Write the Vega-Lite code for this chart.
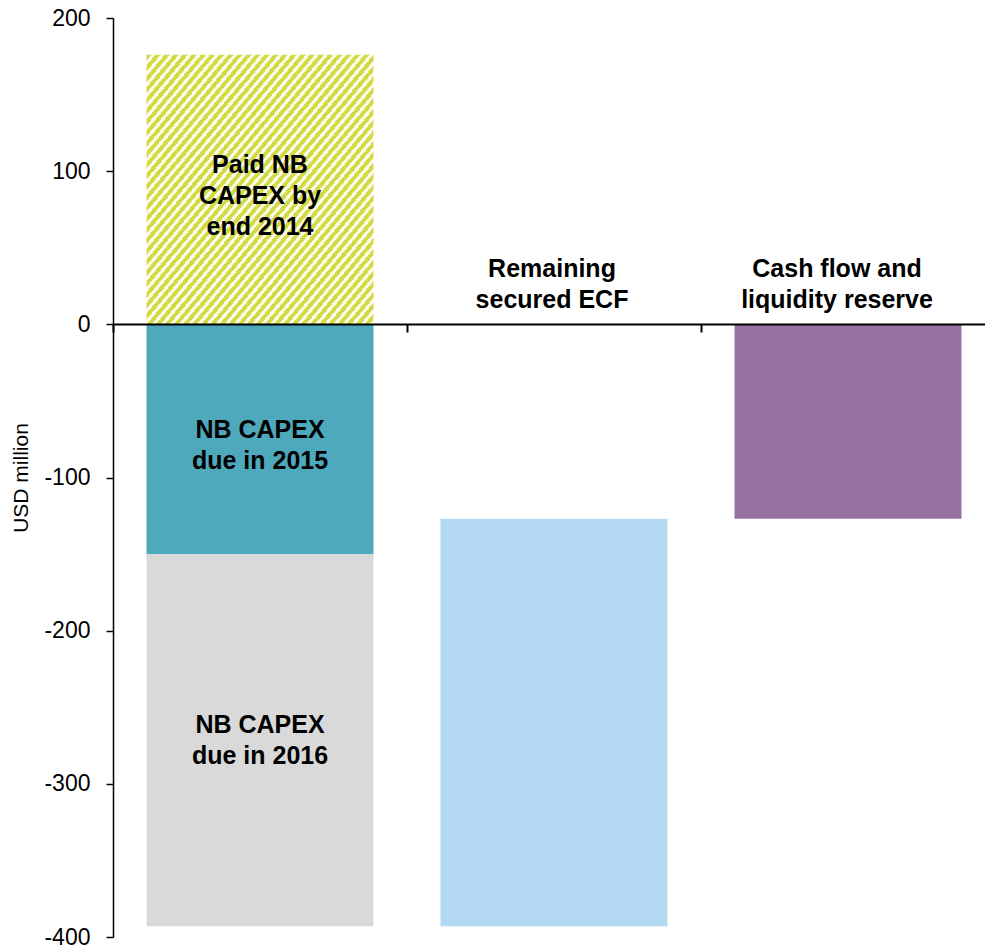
{
  "$schema": "https://vega.github.io/schema/vega-lite/v6.json",
  "width": 872,
  "height": 919,
  "autosize": "none",
  "padding": {"left": 113, "top": 18, "right": 0, "bottom": 9},
  "background": "white",
  "config": {
    "view": {"stroke": null},
    "font": "Liberation Sans",
    "axis": {"grid": false},
    "axisY": {"tickCount": 6, "labelExpr": "'' + datum.value", "domainColor": "black", "domainWidth": 1.5, "tickColor": "black", "tickWidth": 1.5, "tickSize": 7, "labelFontSize": 23, "labelColor": "black", "labelPadding": 16, "labelFont": "Liberation Sans", "titleFontSize": 21, "titleFont": "Liberation Sans", "titleFontWeight": "normal", "titleColor": "black", "titlePadding": 12}
  },
  "data": {"values": [
    {"cat": "A", "part": "paid", "start": 0, "end": 176, "label": "Paid NB\nCAPEX by\nend 2014"},
    {"cat": "A", "part": "due2015", "start": 0, "end": -150, "label": "NB CAPEX\ndue in 2015"},
    {"cat": "A", "part": "due2016", "start": -150, "end": -393, "label": "NB CAPEX\ndue in 2016"},
    {"cat": "B", "part": "ecf", "start": -127, "end": -393, "label": "Remaining\nsecured ECF"},
    {"cat": "C", "part": "cash", "start": 0, "end": -127, "label": "Cash flow and\nliquidity reserve"}
  ]},
  "encoding": {
    "x": {
      "field": "cat", "type": "nominal", "sort": null,
      "scale": {"range": [0, 882], "paddingInner": 0.228, "paddingOuter": 0.114},
      "axis": {"orient": "bottom", "offset": -613, "title": null, "labels": false, "bandPosition": -0.1476, "grid": false, "domainColor": "black", "domainWidth": 2, "tickColor": "black", "tickWidth": 2, "tickSize": 8, "zindex": 2}
    }
  },
  "layer": [
    {
      "transform": [{"filter": "datum.part == 'paid'"}],
      "mark": {"type": "bar", "fill": {"gradient": "linear", "x1": 0, "y1": 0, "x2": 1, "y2": 1, "stops": [
        {"offset":0,"color":"#d3da45"},{"offset":0.011,"color":"#d3da45"},{"offset":0.011,"color":"#fafbe6"},{"offset":0.02,"color":"#fafbe6"},
        {"offset":0.02,"color":"#d3da45"},{"offset":0.031,"color":"#d3da45"},{"offset":0.031,"color":"#fafbe6"},{"offset":0.04,"color":"#fafbe6"},
        {"offset":0.04,"color":"#d3da45"},{"offset":0.051,"color":"#d3da45"},{"offset":0.051,"color":"#fafbe6"},{"offset":0.06,"color":"#fafbe6"},
        {"offset":0.06,"color":"#d3da45"},{"offset":0.071,"color":"#d3da45"},{"offset":0.071,"color":"#fafbe6"},{"offset":0.08,"color":"#fafbe6"},
        {"offset":0.08,"color":"#d3da45"},{"offset":0.091,"color":"#d3da45"},{"offset":0.091,"color":"#fafbe6"},{"offset":0.1,"color":"#fafbe6"},
        {"offset":0.1,"color":"#d3da45"},{"offset":0.111,"color":"#d3da45"},{"offset":0.111,"color":"#fafbe6"},{"offset":0.12,"color":"#fafbe6"},
        {"offset":0.12,"color":"#d3da45"},{"offset":0.131,"color":"#d3da45"},{"offset":0.131,"color":"#fafbe6"},{"offset":0.14,"color":"#fafbe6"},
        {"offset":0.14,"color":"#d3da45"},{"offset":0.151,"color":"#d3da45"},{"offset":0.151,"color":"#fafbe6"},{"offset":0.16,"color":"#fafbe6"},
        {"offset":0.16,"color":"#d3da45"},{"offset":0.171,"color":"#d3da45"},{"offset":0.171,"color":"#fafbe6"},{"offset":0.18,"color":"#fafbe6"},
        {"offset":0.18,"color":"#d3da45"},{"offset":0.191,"color":"#d3da45"},{"offset":0.191,"color":"#fafbe6"},{"offset":0.2,"color":"#fafbe6"},
        {"offset":0.2,"color":"#d3da45"},{"offset":0.211,"color":"#d3da45"},{"offset":0.211,"color":"#fafbe6"},{"offset":0.22,"color":"#fafbe6"},
        {"offset":0.22,"color":"#d3da45"},{"offset":0.231,"color":"#d3da45"},{"offset":0.231,"color":"#fafbe6"},{"offset":0.24,"color":"#fafbe6"},
        {"offset":0.24,"color":"#d3da45"},{"offset":0.251,"color":"#d3da45"},{"offset":0.251,"color":"#fafbe6"},{"offset":0.26,"color":"#fafbe6"},
        {"offset":0.26,"color":"#d3da45"},{"offset":0.271,"color":"#d3da45"},{"offset":0.271,"color":"#fafbe6"},{"offset":0.28,"color":"#fafbe6"},
        {"offset":0.28,"color":"#d3da45"},{"offset":0.291,"color":"#d3da45"},{"offset":0.291,"color":"#fafbe6"},{"offset":0.3,"color":"#fafbe6"},
        {"offset":0.3,"color":"#d3da45"},{"offset":0.311,"color":"#d3da45"},{"offset":0.311,"color":"#fafbe6"},{"offset":0.32,"color":"#fafbe6"},
        {"offset":0.32,"color":"#d3da45"},{"offset":0.331,"color":"#d3da45"},{"offset":0.331,"color":"#fafbe6"},{"offset":0.34,"color":"#fafbe6"},
        {"offset":0.34,"color":"#d3da45"},{"offset":0.351,"color":"#d3da45"},{"offset":0.351,"color":"#fafbe6"},{"offset":0.36,"color":"#fafbe6"},
        {"offset":0.36,"color":"#d3da45"},{"offset":0.371,"color":"#d3da45"},{"offset":0.371,"color":"#fafbe6"},{"offset":0.38,"color":"#fafbe6"},
        {"offset":0.38,"color":"#d3da45"},{"offset":0.391,"color":"#d3da45"},{"offset":0.391,"color":"#fafbe6"},{"offset":0.4,"color":"#fafbe6"},
        {"offset":0.4,"color":"#d3da45"},{"offset":0.411,"color":"#d3da45"},{"offset":0.411,"color":"#fafbe6"},{"offset":0.42,"color":"#fafbe6"},
        {"offset":0.42,"color":"#d3da45"},{"offset":0.431,"color":"#d3da45"},{"offset":0.431,"color":"#fafbe6"},{"offset":0.44,"color":"#fafbe6"},
        {"offset":0.44,"color":"#d3da45"},{"offset":0.451,"color":"#d3da45"},{"offset":0.451,"color":"#fafbe6"},{"offset":0.46,"color":"#fafbe6"},
        {"offset":0.46,"color":"#d3da45"},{"offset":0.471,"color":"#d3da45"},{"offset":0.471,"color":"#fafbe6"},{"offset":0.48,"color":"#fafbe6"},
        {"offset":0.48,"color":"#d3da45"},{"offset":0.491,"color":"#d3da45"},{"offset":0.491,"color":"#fafbe6"},{"offset":0.5,"color":"#fafbe6"},
        {"offset":0.5,"color":"#d3da45"},{"offset":0.511,"color":"#d3da45"},{"offset":0.511,"color":"#fafbe6"},{"offset":0.52,"color":"#fafbe6"},
        {"offset":0.52,"color":"#d3da45"},{"offset":0.531,"color":"#d3da45"},{"offset":0.531,"color":"#fafbe6"},{"offset":0.54,"color":"#fafbe6"},
        {"offset":0.54,"color":"#d3da45"},{"offset":0.551,"color":"#d3da45"},{"offset":0.551,"color":"#fafbe6"},{"offset":0.56,"color":"#fafbe6"},
        {"offset":0.56,"color":"#d3da45"},{"offset":0.571,"color":"#d3da45"},{"offset":0.571,"color":"#fafbe6"},{"offset":0.58,"color":"#fafbe6"},
        {"offset":0.58,"color":"#d3da45"},{"offset":0.591,"color":"#d3da45"},{"offset":0.591,"color":"#fafbe6"},{"offset":0.6,"color":"#fafbe6"},
        {"offset":0.6,"color":"#d3da45"},{"offset":0.611,"color":"#d3da45"},{"offset":0.611,"color":"#fafbe6"},{"offset":0.62,"color":"#fafbe6"},
        {"offset":0.62,"color":"#d3da45"},{"offset":0.631,"color":"#d3da45"},{"offset":0.631,"color":"#fafbe6"},{"offset":0.64,"color":"#fafbe6"},
        {"offset":0.64,"color":"#d3da45"},{"offset":0.651,"color":"#d3da45"},{"offset":0.651,"color":"#fafbe6"},{"offset":0.66,"color":"#fafbe6"},
        {"offset":0.66,"color":"#d3da45"},{"offset":0.671,"color":"#d3da45"},{"offset":0.671,"color":"#fafbe6"},{"offset":0.68,"color":"#fafbe6"},
        {"offset":0.68,"color":"#d3da45"},{"offset":0.691,"color":"#d3da45"},{"offset":0.691,"color":"#fafbe6"},{"offset":0.7,"color":"#fafbe6"},
        {"offset":0.7,"color":"#d3da45"},{"offset":0.711,"color":"#d3da45"},{"offset":0.711,"color":"#fafbe6"},{"offset":0.72,"color":"#fafbe6"},
        {"offset":0.72,"color":"#d3da45"},{"offset":0.731,"color":"#d3da45"},{"offset":0.731,"color":"#fafbe6"},{"offset":0.74,"color":"#fafbe6"},
        {"offset":0.74,"color":"#d3da45"},{"offset":0.751,"color":"#d3da45"},{"offset":0.751,"color":"#fafbe6"},{"offset":0.76,"color":"#fafbe6"},
        {"offset":0.76,"color":"#d3da45"},{"offset":0.771,"color":"#d3da45"},{"offset":0.771,"color":"#fafbe6"},{"offset":0.78,"color":"#fafbe6"},
        {"offset":0.78,"color":"#d3da45"},{"offset":0.791,"color":"#d3da45"},{"offset":0.791,"color":"#fafbe6"},{"offset":0.8,"color":"#fafbe6"},
        {"offset":0.8,"color":"#d3da45"},{"offset":0.811,"color":"#d3da45"},{"offset":0.811,"color":"#fafbe6"},{"offset":0.82,"color":"#fafbe6"},
        {"offset":0.82,"color":"#d3da45"},{"offset":0.831,"color":"#d3da45"},{"offset":0.831,"color":"#fafbe6"},{"offset":0.84,"color":"#fafbe6"},
        {"offset":0.84,"color":"#d3da45"},{"offset":0.851,"color":"#d3da45"},{"offset":0.851,"color":"#fafbe6"},{"offset":0.86,"color":"#fafbe6"},
        {"offset":0.86,"color":"#d3da45"},{"offset":0.871,"color":"#d3da45"},{"offset":0.871,"color":"#fafbe6"},{"offset":0.88,"color":"#fafbe6"},
        {"offset":0.88,"color":"#d3da45"},{"offset":0.891,"color":"#d3da45"},{"offset":0.891,"color":"#fafbe6"},{"offset":0.9,"color":"#fafbe6"},
        {"offset":0.9,"color":"#d3da45"},{"offset":0.911,"color":"#d3da45"},{"offset":0.911,"color":"#fafbe6"},{"offset":0.92,"color":"#fafbe6"},
        {"offset":0.92,"color":"#d3da45"},{"offset":0.931,"color":"#d3da45"},{"offset":0.931,"color":"#fafbe6"},{"offset":0.94,"color":"#fafbe6"},
        {"offset":0.94,"color":"#d3da45"},{"offset":0.951,"color":"#d3da45"},{"offset":0.951,"color":"#fafbe6"},{"offset":0.96,"color":"#fafbe6"},
        {"offset":0.96,"color":"#d3da45"},{"offset":0.971,"color":"#d3da45"},{"offset":0.971,"color":"#fafbe6"},{"offset":0.98,"color":"#fafbe6"},
        {"offset":0.98,"color":"#d3da45"},{"offset":0.991,"color":"#d3da45"},{"offset":0.991,"color":"#fafbe6"},{"offset":1,"color":"#fafbe6"}
      ]}},
      "encoding": {
        "y": {"field": "start", "type": "quantitative", "title": "USD million", "scale": {"domain": [-400, 200], "nice": false, "zero": false}},
        "y2": {"field": "end"}
      }
    },
    {
      "transform": [{"filter": "datum.part != 'paid'"}],
      "mark": {"type": "bar"},
      "encoding": {
        "y": {"field": "start", "type": "quantitative", "title": "USD million", "scale": {"domain": [-400, 200], "nice": false, "zero": false}},
        "y2": {"field": "end"},
        "color": {"field": "part", "type": "nominal", "legend": null,
          "scale": {"domain": ["due2015", "due2016", "ecf", "cash"], "range": ["#4ea9bd", "#d9d9d9", "#b3d9f3", "#9672a3"]}}
      }
    },
    {
      "transform": [{"filter": "datum.part == 'paid'"}, {"fold": ["start", "end"], "as": ["edge", "value"]}],
      "mark": {"type": "text", "lineBreak": "\n", "fontSize": 25, "fontWeight": "bold", "lineHeight": 31, "baseline": "middle", "dy": -25, "color": "black"},
      "encoding": {
        "y": {"field": "value", "aggregate": "mean", "type": "quantitative", "title": "USD million", "scale": {"domain": [-400, 200], "nice": false, "zero": false}},
        "text": {"field": "label"}
      }
    },
    {
      "transform": [{"filter": "datum.part == 'due2015'"}, {"fold": ["start", "end"], "as": ["edge", "value"]}],
      "mark": {"type": "text", "lineBreak": "\n", "fontSize": 25, "fontWeight": "bold", "lineHeight": 31, "baseline": "middle", "dy": -9, "color": "black"},
      "encoding": {
        "y": {"field": "value", "aggregate": "mean", "type": "quantitative", "title": "USD million", "scale": {"domain": [-400, 200], "nice": false, "zero": false}},
        "text": {"field": "label"}
      }
    },
    {
      "transform": [{"filter": "datum.part == 'due2016'"}, {"fold": ["start", "end"], "as": ["edge", "value"]}],
      "mark": {"type": "text", "lineBreak": "\n", "fontSize": 25, "fontWeight": "bold", "lineHeight": 31, "baseline": "middle", "dy": -15, "color": "black"},
      "encoding": {
        "y": {"field": "value", "aggregate": "mean", "type": "quantitative", "title": "USD million", "scale": {"domain": [-400, 200], "nice": false, "zero": false}},
        "text": {"field": "label"}
      }
    },
    {
      "transform": [{"filter": "datum.cat == 'B'"}],
      "mark": {"type": "text", "lineBreak": "\n", "fontSize": 25, "fontWeight": "bold", "lineHeight": 31, "baseline": "middle", "dy": -55, "dx": -2, "color": "black"},
      "encoding": {
        "y": {"datum": 0, "type": "quantitative", "title": "USD million", "scale": {"domain": [-400, 200], "nice": false, "zero": false}},
        "text": {"field": "label"}
      }
    },
    {
      "transform": [{"filter": "datum.cat == 'C'"}],
      "mark": {"type": "text", "lineBreak": "\n", "fontSize": 25, "fontWeight": "bold", "lineHeight": 31, "baseline": "middle", "dy": -55, "dx": -11, "color": "black"},
      "encoding": {
        "y": {"datum": 0, "type": "quantitative", "title": "USD million", "scale": {"domain": [-400, 200], "nice": false, "zero": false}},
        "text": {"field": "label"}
      }
    }
  ]
}
